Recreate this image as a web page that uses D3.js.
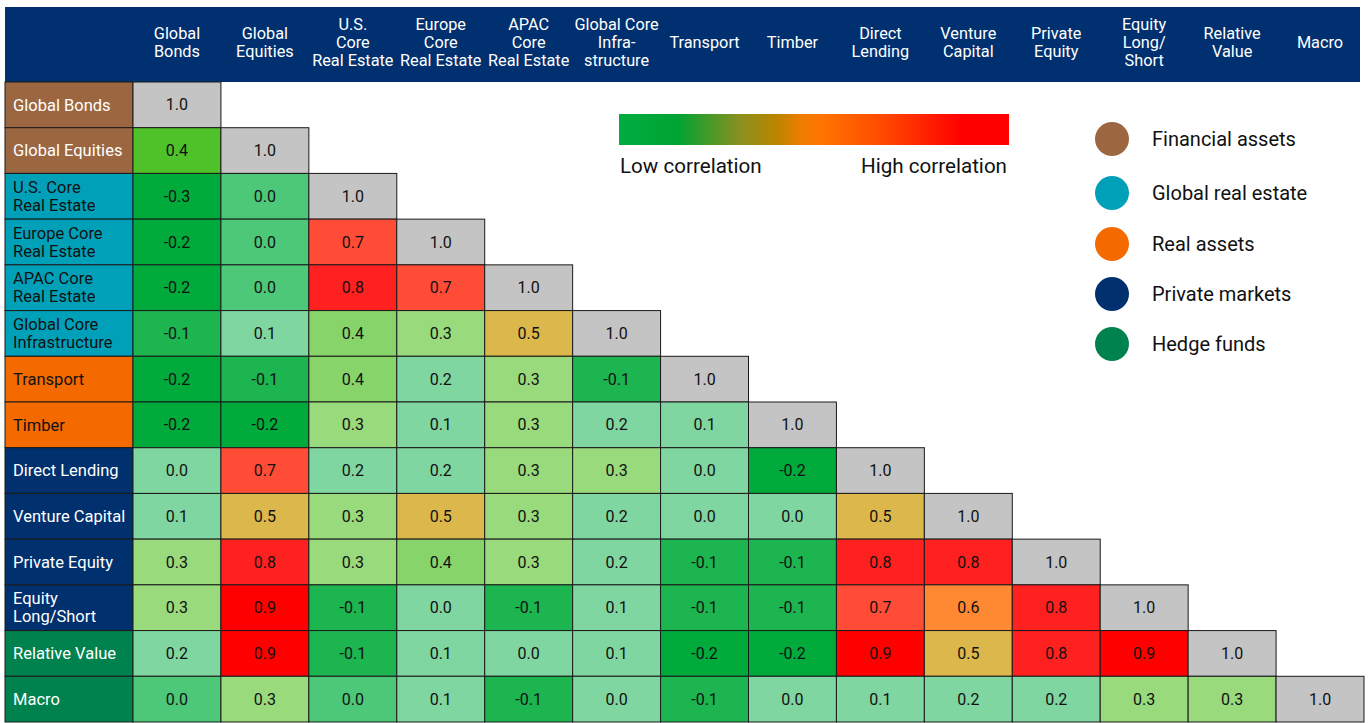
<!DOCTYPE html>
<html>
<head>
<meta charset="utf-8">
<script src="https://cdn.jsdelivr.net/npm/d3@7"></script>
<style>
  html, body { margin: 0; padding: 0; background: #fff; }
  svg { display: block; font-family: Roboto, "Noto Sans", sans-serif; }
</style>
</head>
<body>
<svg id="chart" width="1368" height="723"></svg>
<script>
// Asset classes (rows and columns share the same order)
const assets = [
  "Global Bonds", "Global Equities", "U.S. Core Real Estate", "Europe Core Real Estate",
  "APAC Core Real Estate", "Global Core Infrastructure", "Transport", "Timber",
  "Direct Lending", "Venture Capital", "Private Equity", "Equity Long/Short",
  "Relative Value", "Macro"
];

// Column header labels (line breaks with \n)
const columnLabels = [
  "Global\nBonds", "Global\nEquities", "U.S.\nCore\nReal Estate", "Europe\nCore\nReal Estate",
  "APAC\nCore\nReal Estate", "Global Core\nInfra-\nstructure", "Transport", "Timber",
  "Direct\nLending", "Venture\nCapital", "Private\nEquity", "Equity\nLong/\nShort",
  "Relative\nValue", "Macro"
];

// Row header labels
const rowLabels = [
  "Global Bonds", "Global Equities", "U.S. Core\nReal Estate", "Europe Core\nReal Estate",
  "APAC Core\nReal Estate", "Global Core\nInfrastructure", "Transport", "Timber",
  "Direct Lending", "Venture Capital", "Private Equity", "Equity\nLong/Short",
  "Relative Value", "Macro"
];

// Asset group of each row
const groups = ["Financial assets", "Global real estate", "Real assets", "Private markets", "Hedge funds"];
const rowGroup = [0, 0, 1, 1, 1, 1, 2, 2, 3, 3, 3, 3, 4, 4];

// Lower-triangle correlation matrix (row i holds columns 0..i)
const correlations = [
  [1.0],
  [0.43, 1.0],
  [-0.3, -0.03, 1.0],
  [-0.2, -0.03, 0.7, 1.0],
  [-0.2, -0.03, 0.8, 0.7, 1.0],
  [-0.1, 0.1, 0.4, 0.3, 0.5, 1.0],
  [-0.2, -0.1, 0.4, 0.2, 0.3, -0.1, 1.0],
  [-0.2, -0.2, 0.3, 0.1, 0.3, 0.2, 0.1, 1.0],
  [0.0, 0.7, 0.2, 0.2, 0.3, 0.3, 0.0, -0.2, 1.0],
  [0.1, 0.5, 0.3, 0.5, 0.3, 0.2, 0.0, 0.0, 0.5, 1.0],
  [0.3, 0.8, 0.3, 0.4, 0.3, 0.2, -0.1, -0.1, 0.8, 0.8, 1.0],
  [0.3, 0.9, -0.1, 0.0, -0.1, 0.1, -0.1, -0.1, 0.7, 0.6, 0.8, 1.0],
  [0.2, 0.9, -0.1, 0.1, 0.0, 0.1, -0.2, -0.2, 0.9, 0.5, 0.8, 0.9, 1.0],
  [-0.03, 0.3, -0.03, 0.1, -0.1, 0.0, -0.1, 0.0, 0.1, 0.2, 0.2, 0.3, 0.3, 1.0]
];

const groupColors = ["#9c6641", "#00a0b8", "#f46a00", "#00306e", "#00824f"];
const groupTextColors = ["#ffffff", "#111111", "#111111", "#ffffff", "#ffffff"];

// Stepped heat colours for correlation values
const heatThresholds = [-0.15, -0.05, 0, 0.25, 0.35, 0.42, 0.45, 0.55, 0.65, 0.75, 0.85];
const heatColors = ["#00ab3b", "#1cb550", "#4dc879", "#80d6a0", "#98da7c", "#87d46b", "#50c229",
                    "#dcb74b", "#ff8832", "#ff4c36", "#ff2020", "#ff0000"];
const diagonalColor = "#c3c4c3";

const gradientStops = [
  [0, "#00ad40"], [0.15, "#00a332"], [0.31, "#8a901f"], [0.40, "#b88500"],
  [0.47, "#f07c00"], [0.52, "#ff7400"], [0.68, "#ff4800"], [0.88, "#ff0000"], [1, "#ff0000"]
];

const headerColor = "#00306f";

const svg = d3.select("#chart");
const n = assets.length;

const x = d3.scaleBand().domain(d3.range(n)).range([133, 1364]);
const y = d3.scaleBand().domain(d3.range(n)).range([82, 722]);
const heat = d3.scaleThreshold().domain(heatThresholds).range(heatColors);
const fmt = d3.formatLocale({decimal: ".", thousands: ",", grouping: [3], currency: ["", ""], minus: "-"}).format(".1f");

// Header band
svg.append("rect")
  .attr("x", 5).attr("y", 7).attr("width", 1355).attr("height", 75)
  .attr("fill", headerColor);

const headerCenter = 42, headerLine = 18;
columnLabels.forEach((lab, j) => {
  const lines = lab.split("\n");
  const t = svg.append("text")
    .attr("text-anchor", "middle")
    .attr("fill", "#fff")
    .attr("font-size", 16.3);
  lines.forEach((ln, k) => {
    t.append("tspan")
      .attr("x", x(j) + x.bandwidth() / 2)
      .attr("y", headerCenter + (k - (lines.length - 1) / 2) * headerLine)
      .attr("dy", "0.35em")
      .text(ln);
  });
});

// Row label cells
const rowsG = svg.append("g");
rowLabels.forEach((lab, i) => {
  const g = rowGroup[i];
  rowsG.append("rect")
    .attr("x", 5).attr("y", y(i))
    .attr("width", 128).attr("height", y.bandwidth())
    .attr("fill", groupColors[g])
    .attr("stroke", "#1a1a1a").attr("stroke-width", 1);
  const lines = lab.split("\n");
  const t = rowsG.append("text")
    .attr("fill", groupTextColors[g])
    .attr("font-size", 16.5);
  lines.forEach((ln, k) => {
    t.append("tspan")
      .attr("x", 13)
      .attr("y", y(i) + y.bandwidth() / 2 + (k - (lines.length - 1) / 2) * 18)
      .attr("dy", "0.35em")
      .text(ln);
  });
});

// Heat cells
const cells = [];
correlations.forEach((row, i) => row.forEach((v, j) => cells.push({i, j, v})));

const cellG = svg.append("g");
cellG.selectAll("rect")
  .data(cells)
  .join("rect")
  .attr("x", d => x(d.j))
  .attr("y", d => y(d.i))
  .attr("width", x.bandwidth())
  .attr("height", y.bandwidth())
  .attr("fill", d => d.i === d.j ? diagonalColor : heat(d.v))
  .attr("stroke", "#1a1a1a")
  .attr("stroke-width", 1);

cellG.selectAll("text")
  .data(cells)
  .join("text")
  .attr("x", d => x(d.j) + x.bandwidth() / 2)
  .attr("y", d => y(d.i) + y.bandwidth() / 2)
  .attr("dy", "0.35em")
  .attr("text-anchor", "middle")
  .attr("font-size", 16)
  .attr("fill", "#111")
  .text(d => fmt(d.v));

// Colour bar
const defs = svg.append("defs");
const grad = defs.append("linearGradient").attr("id", "corrGrad")
  .attr("x1", "0%").attr("x2", "100%").attr("y1", "0%").attr("y2", "0%");
grad.selectAll("stop").data(gradientStops).join("stop")
  .attr("offset", d => d[0]).attr("stop-color", d => d[1]);

svg.append("rect")
  .attr("x", 619).attr("y", 114).attr("width", 390).attr("height", 31)
  .attr("fill", "url(#corrGrad)");
svg.append("text").attr("x", 620).attr("y", 173)
  .attr("font-size", 20.6).attr("fill", "#111").text("Low correlation");
svg.append("text").attr("x", 1007).attr("y", 173).attr("text-anchor", "end")
  .attr("font-size", 20.6).attr("fill", "#111").text("High correlation");

// Group legend
const legendY = [139, 193, 244, 294, 344];
const legend = svg.append("g");
groups.forEach((name, k) => {
  legend.append("circle")
    .attr("cx", 1112).attr("cy", legendY[k]).attr("r", 17)
    .attr("fill", groupColors[k]);
  legend.append("text")
    .attr("x", 1152).attr("y", legendY[k]).attr("dy", "0.35em")
    .attr("font-size", 20).attr("fill", "#111")
    .text(name);
});
</script>
</body>
</html>
